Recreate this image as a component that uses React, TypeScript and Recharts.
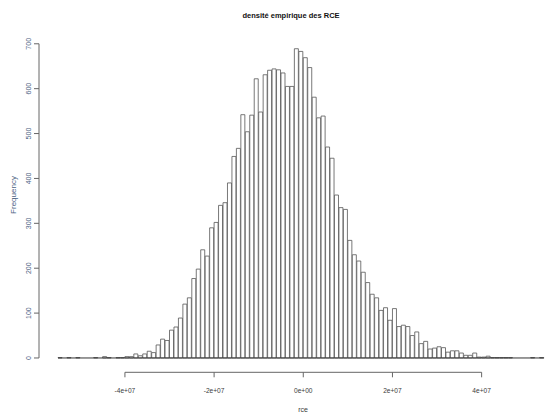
import React from "react";
import { ComposedChart, Bar, XAxis, YAxis, ReferenceLine } from "recharts";

// Histogram structure (bins of width 1e6 starting at -5.5e7)
const BIN_START = -55e6;
const BIN_WIDTH = 1e6;

// Frequencies per bin (bins -5.5e7 .. 5.4e7)
const counts = [
  1, 0, 1, 0, 1, 0, 0, 0, 1, 0,
  3, 1, 0, 1, 1, 3, 3, 9, 5, 9,
  15, 12, 29, 42, 39, 62, 69, 89, 120, 134,
  177, 198, 241, 227, 290, 302, 340, 346, 390, 449,
  467, 542, 504, 541, 622, 548, 631, 641, 644, 642,
  635, 605, 605, 689, 683, 669, 647, 581, 535, 539,
  470, 445, 363, 335, 331, 262, 230, 216, 191, 168,
  142, 134, 106, 112, 84, 110, 70, 73, 70, 50,
  58, 32, 37, 20, 22, 25, 23, 13, 16, 16,
  11, 6, 6, 11, 2, 2, 4, 1, 1, 1,
  1, 1, 0, 0, 0, 0, 1, 0, 1,
];

const xTickValues = [-4e7, -2e7, 0, 2e7, 4e7];
const xTickLabels = ["-4e+07", "-2e+07", "0e+00", "2e+07", "4e+07"];
const yTickValues = [0, 100, 200, 300, 400, 500, 600, 700];

const titleText = "densité empirique des RCE";
const xLabelText = "rce";
const yLabelText = "Frequency";

const data = counts.map((c, i) => ({
  mid: BIN_START + (i + 0.5) * BIN_WIDTH,
  count: c,
}));
const BIN_END = BIN_START + counts.length * BIN_WIDTH;

const W = 545;
const H = 412;
const X_DOMAIN: [number, number] = [-59.27e6, 54.21e6];
const Y_DOMAIN: [number, number] = [-31.9, 716];
const FONT = "'Liberation Sans', Arial, Helvetica, sans-serif";

const YTick = (props: any) => {
  const { x, y, payload } = props;
  return (
    <text
      x={x}
      y={y}
      transform={`rotate(-90 ${x} ${y})`}
      textAnchor="middle"
      fontSize={7}
      fill="#4d6384"
      fontFamily={FONT}
    >
      {payload.value}
    </text>
  );
};

const XTick = (props: any) => {
  const { x, y, payload } = props;
  const idx = xTickValues.indexOf(payload.value);
  return (
    <text
      x={x}
      y={y + 16}
      textAnchor="middle"
      fontSize={6.6}
      fill="#3a3a3a"
      fontFamily={FONT}
    >
      {idx >= 0 ? xTickLabels[idx] : ""}
    </text>
  );
};

export default function App() {
  return (
    <div
      style={{
        position: "fixed",
        left: 0,
        top: 0,
        width: W,
        height: H,
        overflow: "hidden",
        background: "#fff",
      }}
    >
      <ComposedChart
        width={W}
        height={H}
        data={data}
        margin={{ top: 36.6, right: 0, bottom: 0, left: 0 }}
        barCategoryGap={0}
        barGap={0}
      >
        <XAxis
          dataKey="mid"
          type="number"
          scale="linear"
          domain={X_DOMAIN}
          allowDataOverflow
          ticks={xTickValues}
          interval={0}
          height={39.7}
          axisLine={false}
          tickLine={{ stroke: "#666" }}
          tickSize={5}
          tickMargin={0}
          tick={<XTick />}
        />
        <YAxis
          type="number"
          domain={Y_DOMAIN}
          allowDataOverflow
          ticks={yTickValues}
          interval={0}
          width={39}
          axisLine={false}
          tickLine={{ stroke: "#666" }}
          tickSize={5}
          tickMargin={3}
          tick={<YTick />}
        />
        <Bar
          dataKey="count"
          fill="#ffffff"
          stroke="#555"
          strokeWidth={0.8}
          isAnimationActive={false}
        />
        <ReferenceLine
          segment={[
            { x: BIN_START, y: 0 },
            { x: BIN_END, y: 0 },
          ]}
          stroke="#333"
          strokeWidth={1}
          ifOverflow="visible"
        />
        <ReferenceLine
          segment={[
            { x: xTickValues[0], y: Y_DOMAIN[0] },
            { x: xTickValues[xTickValues.length - 1], y: Y_DOMAIN[0] },
          ]}
          stroke="#666"
          strokeWidth={1}
          ifOverflow="visible"
        />
        <ReferenceLine
          segment={[
            { x: X_DOMAIN[0], y: yTickValues[0] },
            { x: X_DOMAIN[0], y: yTickValues[yTickValues.length - 1] },
          ]}
          stroke="#666"
          strokeWidth={1}
          ifOverflow="visible"
        />
      </ComposedChart>
      <svg
        width={W}
        height={H}
        style={{ position: "absolute", left: 0, top: 0, pointerEvents: "none" }}
      >
        <text
          x={291}
          y={18}
          textAnchor="middle"
          fontSize={7.5}
          fontWeight="bold"
          fill="#111"
          fontFamily={FONT}
        >
          {titleText}
        </text>
        <text
          x={15.5}
          y={195}
          transform="rotate(-90 15.5 195)"
          textAnchor="middle"
          fontSize={8}
          fill="#4d6384"
          fontFamily={FONT}
        >
          {yLabelText}
        </text>
        <text
          x={303}
          y={411.5}
          textAnchor="middle"
          fontSize={7}
          fill="#3a3a3a"
          fontFamily={FONT}
        >
          {xLabelText}
        </text>
      </svg>
    </div>
  );
}
